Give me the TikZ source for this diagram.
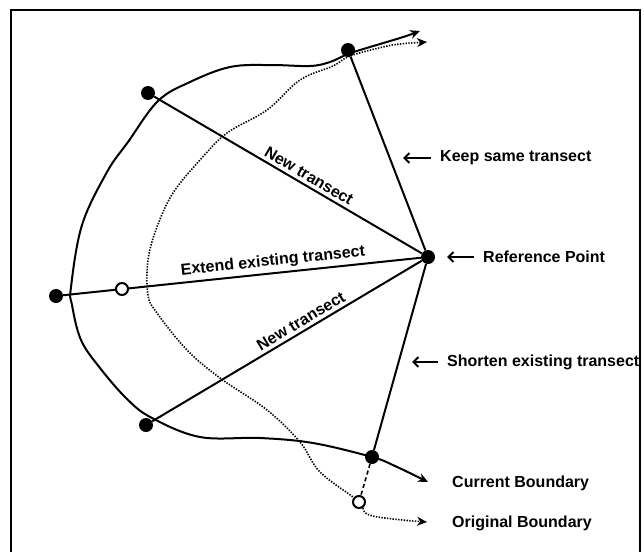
\documentclass[tikz,border=0pt]{standalone}
\usepackage{fontspec}
\setmainfont{Liberation Sans}
\usetikzlibrary{arrows.meta}

\begin{document}
\begin{tikzpicture}[
        x=1pt, y=-1pt,
        font=\fontsize{16}{19}\selectfont\bfseries,
        v/.style = {circle, fill, inner sep=0pt, minimum size=14pt},
        o/.style = {circle, draw, fill=white, line width=2pt, inner sep=0pt, minimum size=12pt},
        t/.style = {line width=2pt},
        cur/.style = {line width=2pt, {Stealth[length=10pt,width=9pt]}-{Stealth[length=10pt,width=9pt]}},
        orig/.style = {line width=1.6pt, dash pattern=on 1.4pt off 1.4pt, {Stealth[length=10pt,width=9pt]}-{Stealth[length=10pt,width=9pt]}},
        lbl/.style = {anchor=west, inner sep=0pt},
        la/.style = {line width=2pt, shorten <=9pt, -{Straight Barb[length=5pt,width=10pt]}}
    ]
    \useasboundingbox (0,0) rectangle (644,551);
    %--- Frame ---%
        \draw[line width=1.8pt] (11,560) |- (640,10) -- (640,560);
    %--- Draw Points ---%
        \node (R) [v] at (428,257) {};
        \node (T) [v] at (348,50) {};
        \node (UL) [v] at (148,93) {};
        \node (L) [v] at (56,296) {};
        \node (LL) [v] at (146,425) {};
        \node (B) [v] at (372,457) {};
    %--- Draw Boundaries ---%
        \draw[cur] plot[smooth, tension=0.6] coordinates {(420,31) (400,38) (370,47) (348,54) (330,62) (310,66) (270,65) (230,67) (190,82) (158,101) (128,142) (107,172) (82,225) (71,287) (72,305) (81,340) (100,368) (127,399) (152,418) (200,437) (260,438) (313,443) (B.center) (395,466) (428,482)};
        \draw[orig] plot[smooth, tension=0.6] coordinates {(427,42) (400,44) (383,47) (350,56) (333,66) (300,80) (267,110) (227,133) (200,160) (173,193) (157,227) (148,260) (148,295) (157,313) (187,350) (220,378) (267,410) (300,442) (320,472) (358,501) (367,514) (393,519) (427,522)};
    %--- Draw Transects ---%
        \draw[t] (R) -- (T);
        \draw[t] (UL) -- node [sloped, above, pos=0.56]{New transect} (R);
        \draw[t] (L) -- node [sloped, above, pos=0.59]{Extend existing transect} (R);
        \draw[t] (LL) -- node [sloped, above, pos=0.57]{New transect} (R);
        \draw[t] (R) -- (B);
    %--- Original Points ---%
        \node (O1) [o] at (122,289) {};
        \node (O2) [o] at (359,502) {};
        \draw[line width=1.6pt, dash pattern=on 4pt off 3pt] (B) -- (O2);
    %--- Labels ---%
        \node (keep) [lbl] at (440,158) {Keep same transect};
        \node (ref) [lbl] at (483,257) {Reference Point};
        \node (short) [lbl] at (447,362) {Shorten existing transect};
        \node (curb) [lbl] at (452,483) {Current Boundary};
        \node (origb) [lbl] at (452,523) {Original Boundary};
        \coordinate (keeptip) at (403,158);
        \coordinate (reftip) at (447,257);
        \coordinate (shorttip) at (412,362);
        \draw[la] (keep.west) -- (keeptip);
        \draw[la] (ref.west) -- (reftip);
        \draw[la] (short.west) -- (shorttip);
\end{tikzpicture}
\end{document}
